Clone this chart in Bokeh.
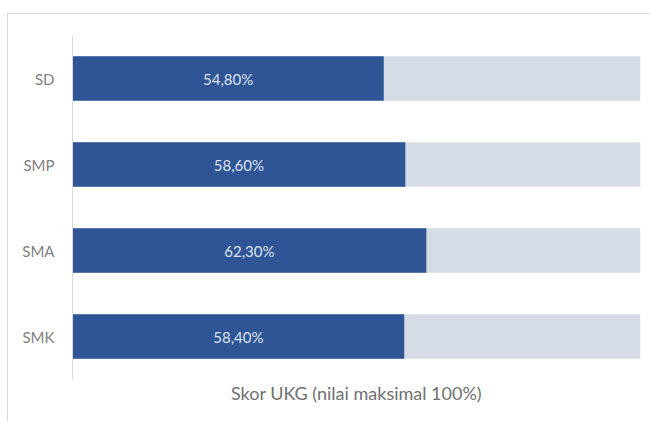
from bokeh.plotting import figure
from bokeh.models import ColumnDataSource, FactorRange, Range1d, LabelSet
from bokeh.core.properties import value
from bokeh.embed import file_html
from bokeh.resources import INLINE

categories = ["SD", "SMP", "SMA", "SMK"]
scores = [54.8, 58.6, 62.3, 58.4]
max_score = [100, 100, 100, 100]
axis_title = "Skor UKG (nilai maksimal 100%)"

labels = [("%.2f" % v).replace(".", ",") + "%" for v in scores]
src = ColumnDataSource(dict(cat=categories, score=scores, full=max_score,
                            mid=[v / 2 for v in scores], label=labels))

FONT = "Lato"
p = figure(width=643, height=408, output_backend="svg", toolbar_location=None,
           y_range=FactorRange(factors=categories[::-1], range_padding=0),
           x_range=Range1d(0, 100),
           min_border_left=64, min_border_right=11, min_border_top=21, min_border_bottom=43)
p.margin = (13, 0, 0, 7)
p.styles = {"border-left": "1px solid #D9D9D9", "border-top": "1px solid #D9D9D9"}
p.outline_line_color = None
p.background_fill_color = "white"
p.border_fill_color = "white"
p.grid.visible = False

p.hbar(y="cat", left=0, right="full", height=0.52, source=src,
       fill_color="#D6DCE5", line_color=None)
p.hbar(y="cat", left=0, right="score", height=0.52, source=src,
       fill_color="#2F5597", line_color=None)

lbl = LabelSet(x="mid", y="cat", text="label", source=src, text_align="center",
               text_baseline="middle", text_color="#DCE2EE", text_font=value(FONT),
               text_font_size="15px")
p.add_layout(lbl)

ya = p.yaxis[0]
ya.axis_line_color = "#D9D9D9"
ya.major_tick_line_color = None
ya.minor_tick_line_color = None
ya.major_label_text_color = "#808080"
ya.major_label_text_font = FONT
ya.major_label_text_font_size = "15px"
ya.major_label_standoff = 12

xa = p.xaxis[0]
xa.ticker = []
xa.axis_line_color = None
xa.major_tick_line_color = None
xa.minor_tick_line_color = None
xa.axis_label = axis_title
xa.axis_label_text_font = FONT
xa.axis_label_text_font_style = "normal"
xa.axis_label_text_font_size = "18px"
xa.axis_label_text_color = "#707070"
xa.axis_label_standoff = 2

open("out.html", "w").write(file_html(p, INLINE))
